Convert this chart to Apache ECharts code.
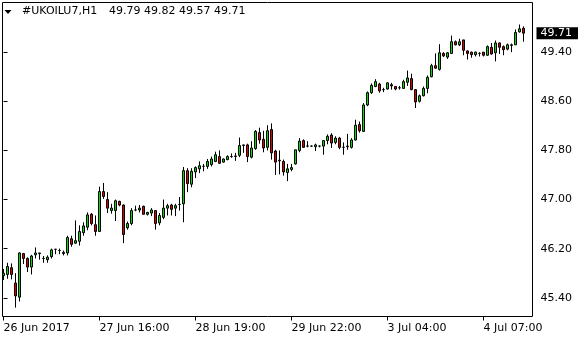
<!DOCTYPE html>
<html><head><meta charset="utf-8">
<script src="https://cdn.jsdelivr.net/npm/echarts@6/dist/echarts.min.js"></script>
<style>html,body{margin:0;padding:0;background:#fff}#c{width:580px;height:340px}</style>
</head><body><div id="c"></div>
<script>
const symbolName = '#UKOILU7,H1';
const opens = [
45.76, 45.78, 45.89, 45.64, 45.41, 46.12, 46.04, 45.90, 46.10, 46.12,
46.04, 46.02, 46.07, 46.19, 46.17, 46.12, 46.13, 46.36, 46.29, 46.32,
46.46, 46.55, 46.76, 46.59, 46.48, 47.13, 47.00, 46.82, 46.82, 46.97,
46.91, 46.54, 46.61, 46.83, 46.83, 46.89, 46.76, 46.78, 46.82, 46.62,
46.71, 46.86, 46.91, 46.86, 46.92, 46.93, 47.47, 47.25, 47.45, 47.50,
47.54, 47.54, 47.57, 47.62, 47.70, 47.61, 47.65, 47.70, 47.70, 47.72,
47.88, 47.89, 47.69, 47.83, 48.09, 47.98, 47.85, 48.14, 47.79, 47.64,
47.62, 47.44, 47.49, 47.58, 47.80, 47.96, 47.87, 47.87, 47.86, 47.87,
47.87, 47.96, 48.05, 47.93, 48.00, 47.85, 47.86, 47.85, 47.97, 48.22,
48.11, 48.54, 48.74, 48.84, 48.88, 48.79, 48.80, 48.87, 48.84, 48.82,
48.81, 48.91, 48.97, 48.79, 48.60, 48.69, 48.81, 49.00, 49.18, 49.12,
49.38, 49.32, 49.38, 49.57, 49.52, 49.60, 49.42, 49.40, 49.36, 49.38,
49.40, 49.35, 49.48, 49.39, 49.55, 49.49, 49.45, 49.51, 49.52, 49.73,
49.79];
const closes = [
45.80, 45.91, 45.78, 45.43, 46.13, 46.04, 45.90, 46.08, 46.13, 46.13,
46.04, 46.06, 46.18, 46.19, 46.17, 46.14, 46.38, 46.27, 46.33, 46.48,
46.57, 46.75, 46.61, 46.48, 47.13, 47.05, 46.86, 46.86, 46.98, 46.91,
46.43, 46.61, 46.82, 46.83, 46.86, 46.76, 46.79, 46.83, 46.61, 46.74,
46.86, 46.90, 46.84, 46.90, 46.92, 47.47, 47.26, 47.46, 47.52, 47.55,
47.54, 47.62, 47.66, 47.73, 47.59, 47.66, 47.70, 47.70, 47.71, 47.88,
47.89, 47.70, 47.84, 48.11, 47.97, 47.84, 48.12, 47.76, 47.61, 47.63,
47.45, 47.50, 47.52, 47.81, 47.95, 47.85, 47.87, 47.87, 47.89, 47.87,
47.96, 48.03, 47.92, 48.00, 47.85, 47.85, 47.87, 47.97, 48.21, 48.12,
48.54, 48.74, 48.86, 48.92, 48.77, 48.79, 48.90, 48.85, 48.80, 48.82,
48.92, 48.98, 48.79, 48.59, 48.69, 48.81, 48.99, 49.18, 49.14, 49.39,
49.34, 49.39, 49.57, 49.52, 49.57, 49.43, 49.38, 49.36, 49.40, 49.38,
49.35, 49.49, 49.37, 49.55, 49.48, 49.44, 49.52, 49.52, 49.72, 49.78,
49.71];
const lows = [
45.69, 45.71, 45.70, 45.24, 45.34, 45.95, 45.82, 45.78, 46.04, 46.02,
45.97, 45.97, 46.04, 46.11, 46.11, 46.09, 46.09, 46.23, 46.28, 46.25,
46.41, 46.50, 46.58, 46.41, 46.47, 47.01, 46.78, 46.77, 46.65, 46.89,
46.29, 46.51, 46.58, 46.81, 46.79, 46.76, 46.74, 46.73, 46.51, 46.58,
46.68, 46.74, 46.74, 46.73, 46.82, 46.63, 47.12, 47.20, 47.35, 47.43,
47.46, 47.50, 47.54, 47.61, 47.58, 47.60, 47.64, 47.68, 47.63, 47.69,
47.76, 47.61, 47.67, 47.81, 47.91, 47.77, 47.80, 47.65, 47.40, 47.41,
47.39, 47.30, 47.46, 47.57, 47.77, 47.84, 47.85, 47.86, 47.79, 47.85,
47.73, 47.90, 47.84, 47.90, 47.82, 47.73, 47.81, 47.83, 47.96, 48.09,
48.10, 48.52, 48.72, 48.83, 48.74, 48.75, 48.79, 48.79, 48.78, 48.79,
48.80, 48.85, 48.78, 48.49, 48.58, 48.68, 48.73, 48.99, 49.13, 49.10,
49.32, 49.29, 49.37, 49.51, 49.50, 49.35, 49.28, 49.31, 49.33, 49.33,
49.33, 49.34, 49.36, 49.25, 49.37, 49.35, 49.43, 49.40, 49.52, 49.72,
49.57];
const highs = [
45.87, 45.97, 45.96, 45.80, 46.14, 46.13, 46.06, 46.10, 46.22, 46.13,
46.08, 46.09, 46.20, 46.19, 46.20, 46.17, 46.41, 46.41, 46.66, 46.58,
46.63, 46.79, 46.78, 46.74, 47.21, 47.27, 47.12, 46.93, 47.00, 46.98,
46.92, 46.64, 46.86, 46.90, 46.91, 46.90, 46.80, 46.86, 46.83, 46.78,
47.00, 46.93, 46.93, 46.93, 47.04, 47.53, 47.51, 47.51, 47.54, 47.62,
47.58, 47.66, 47.70, 47.78, 47.80, 47.67, 47.72, 47.75, 47.76, 48.01,
47.89, 47.91, 47.95, 48.13, 48.17, 48.12, 48.21, 48.24, 47.81, 47.80,
47.65, 47.58, 47.58, 47.81, 48.00, 47.98, 47.95, 47.88, 47.91, 47.88,
47.97, 48.06, 48.08, 48.03, 48.02, 47.93, 48.07, 48.00, 48.30, 48.27,
48.57, 48.76, 48.89, 48.96, 48.90, 48.82, 48.91, 48.90, 48.85, 48.85,
48.95, 49.10, 49.05, 48.80, 48.71, 48.84, 49.02, 49.21, 49.38, 49.53,
49.40, 49.40, 49.67, 49.59, 49.62, 49.60, 49.43, 49.41, 49.41, 49.40,
49.40, 49.51, 49.55, 49.59, 49.56, 49.51, 49.54, 49.54, 49.77, 49.85,
49.82];
const tickIndex = [0, 24, 48, 72, 96, 120];
const tickLabels = ['26 Jun 2017', '27 Jun 16:00', '28 Jun 19:00', '29 Jun 22:00', '3 Jul 04:00', '4 Jul 07:00'];
const priceTicks = [45.40, 46.20, 47.00, 47.80, 48.60, 49.40];

const FONT = 'DejaVu Sans';
const n = opens.length;
const data = opens.map((o, i) => [i, o, closes[i], lows[i], highs[i]]);
const last = n - 1;
const header = [opens[last], highs[last], lows[last], closes[last]].map(v => v.toFixed(2)).join(' ');

const chart = echarts.init(document.getElementById('c'), null, {renderer: 'canvas'});
chart.setOption({
  animation: false,
  backgroundColor: '#fff',
  grid: {left: 2.5, top: 2.5, right: 47.5, bottom: 23.5, show: true, borderColor: '#000', borderWidth: 1, backgroundColor: 'transparent'},
  xAxis: {
    type: 'value', min: -0.25, max: n + 1.25,
    axisLine: {show: false}, splitLine: {show: false},
    axisTick: {show: true, customValues: tickIndex, length: 4, lineStyle: {color: '#000'}},
    axisLabel: {show: true, customValues: tickIndex, align: 'left', margin: 6,
      color: '#000', fontFamily: FONT, fontSize: 11,
      formatter: v => tickLabels[tickIndex.indexOf(Math.round(v))] || ''}
  },
  yAxis: {
    type: 'value', position: 'right', min: 45.095, max: 50.209, scale: true,
    axisLine: {show: false}, splitLine: {show: false},
    axisTick: {show: true, customValues: priceTicks, length: 4, lineStyle: {color: '#000'}},
    axisLabel: {show: true, customValues: priceTicks, margin: 8, color: '#000',
      fontFamily: FONT, fontSize: 11, formatter: v => v.toFixed(2)}
  },
  graphic: [
    {type: 'polygon', shape: {points: [[4.5, 10], [11.5, 10], [8, 14]]}, style: {fill: '#000'}},
    {type: 'text', left: 22, top: 6, style: {text: symbolName, fill: '#000', font: '11px "DejaVu Sans"'}},
    {type: 'text', left: 109, top: 6, style: {text: header, fill: '#000', font: '11px "DejaVu Sans"'}}
  ],
  series: [{
    type: 'candlestick',
    data: data,
    encode: {x: 0, y: [1, 2, 3, 4]},
    barWidth: 3,
    itemStyle: {color: '#00dd00', color0: '#dd0000', borderColor: '#000', borderColor0: '#000', borderWidth: 1},
    markLine: {
      silent: true, symbol: ['none', 'none'],
      lineStyle: {color: 'transparent', width: 0},
      data: [{yAxis: closes[last]}],
      label: {show: true, position: 'end', distance: 4, formatter: closes[last].toFixed(2),
        backgroundColor: '#000', color: '#fff', fontFamily: FONT, fontSize: 11,
        lineHeight: 11, padding: [1, 6, 0, 4]}
    }
  }]
});
</script></body></html>
